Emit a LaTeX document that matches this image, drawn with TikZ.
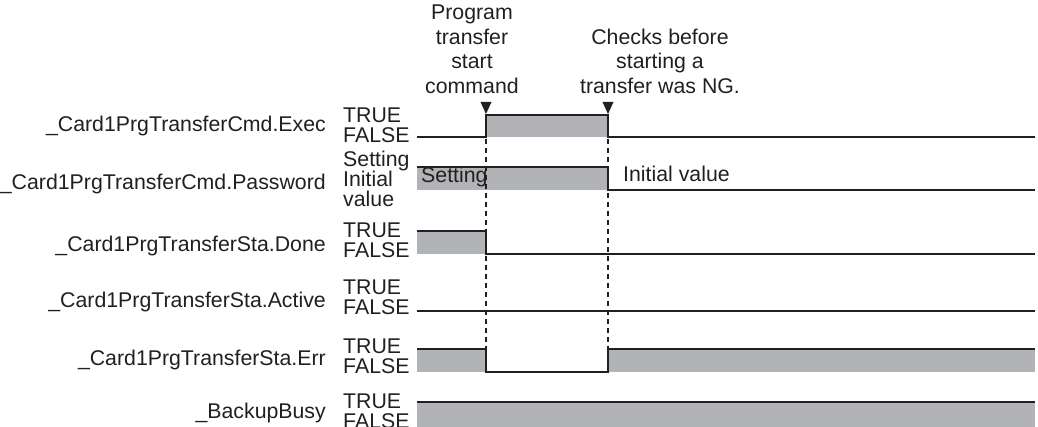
\documentclass[tikz,border=0pt]{standalone}
\usepackage{fontspec}
\setmainfont{Liberation Sans}
\definecolor{ink}{RGB}{35,31,32}
\definecolor{fillgrey}{RGB}{177,179,182}
\tikzset{
  sig/.style={draw=ink, line width=2.8pt, line join=miter},
  greybox/.style={fill=fillgrey, draw=none},
  guide/.style={draw=ink, line width=1.7pt, dash pattern=on 5pt off 4pt},
  lvllbl/.style={inner sep=0pt, anchor=base west, text=ink, font=\fontsize{21.3}{20}\selectfont},
  signame/.style={inner sep=0pt, anchor=base east, text=ink, font=\fontsize{21.3}{20}\selectfont},
  headlbl/.style={inner sep=0pt, anchor=base, text=ink, font=\fontsize{21.3}{20}\selectfont},
  marker/.style={fill=ink, draw=none}
}
\begin{document}
\begin{tikzpicture}[x=1pt,y=-1pt]
\useasboundingbox (0,0) rectangle (1038,427);
% headers
\node[headlbl] (h1a) at (472,20) {Program};
\node[headlbl] (h1b) at (472,44.5) {transfer};
\node[headlbl] (h1c) at (472,69) {start};
\node[headlbl] (h1d) at (472,93.5) {command};
\node[headlbl] (h2a) at (660,44.5) {Checks before};
\node[headlbl] (h2b) at (660,69) {starting a};
\node[headlbl] (h2c) at (660,93.5) {transfer was NG.};
% signal names
\node[signame] (n1) at (326,132) {\_Card1PrgTransferCmd.Exec};
\node[signame] (n2) at (326,190) {\_Card1PrgTransferCmd.Password};
\node[signame] (n3) at (326,252) {\_Card1PrgTransferSta.Done};
\node[signame] (n4) at (326,308) {\_Card1PrgTransferSta.Active};
\node[signame] (n5) at (326,365) {\_Card1PrgTransferSta.Err};
\node[signame] (n6) at (326,418) {\_BackupBusy};
% level labels
\node[lvllbl] (t1) at (343,123) {TRUE};
\node[lvllbl] (f1) at (343,143) {FALSE};
\node[lvllbl] (s2) at (343,167) {Setting};
\node[lvllbl] (i2) at (343,187) {Initial};
\node[lvllbl] (v2) at (343,207) {value};
\node[lvllbl] (t3) at (343,238) {TRUE};
\node[lvllbl] (f3) at (343,258) {FALSE};
\node[lvllbl] (t4) at (343,295) {TRUE};
\node[lvllbl] (f4) at (343,315) {FALSE};
\node[lvllbl] (t5) at (343,353) {TRUE};
\node[lvllbl] (f5) at (343,373) {FALSE};
\node[lvllbl] (t6) at (343,408) {TRUE};
\node[lvllbl] (f6) at (343,428) {FALSE};
% grey fills
\path[greybox] (486,115) rectangle (608,137);
\path[greybox] (417,167) rectangle (608,190);
\path[greybox] (417,231) rectangle (486,254);
\path[greybox] (417,349) rectangle (486,372);
\path[greybox] (608,349) rectangle (1035,372);
\path[greybox] (417,402) rectangle (1035,430);
% value texts
\node[lvllbl] (set) at (421,183) {Setting};
\node[lvllbl] (ini) at (623,182) {Initial value};
% guides
\draw[guide] (486,139) -- (486,349);
\draw[guide] (608,139) -- (608,349);
% waveforms
\draw[sig] (417,137) -- (486,137) -- (486,115) -- (608,115) -- (608,137) -- (1035,137);
\draw[sig] (417,167) -- (608,167) -- (608,190) -- (1035,190);
\draw[sig] (417,231) -- (486,231) -- (486,254) -- (1035,254);
\draw[sig] (417,311) -- (1035,311);
\draw[sig] (417,349) -- (486,349) -- (486,372) -- (608,372) -- (608,349) -- (1035,349);
\draw[sig] (417,402) -- (1035,402);
% markers
\path[marker] (480.5,102) -- (491.5,102) -- (486,114) -- cycle;
\path[marker] (602.5,102) -- (613.5,102) -- (608,114) -- cycle;
\end{tikzpicture}
\end{document}
